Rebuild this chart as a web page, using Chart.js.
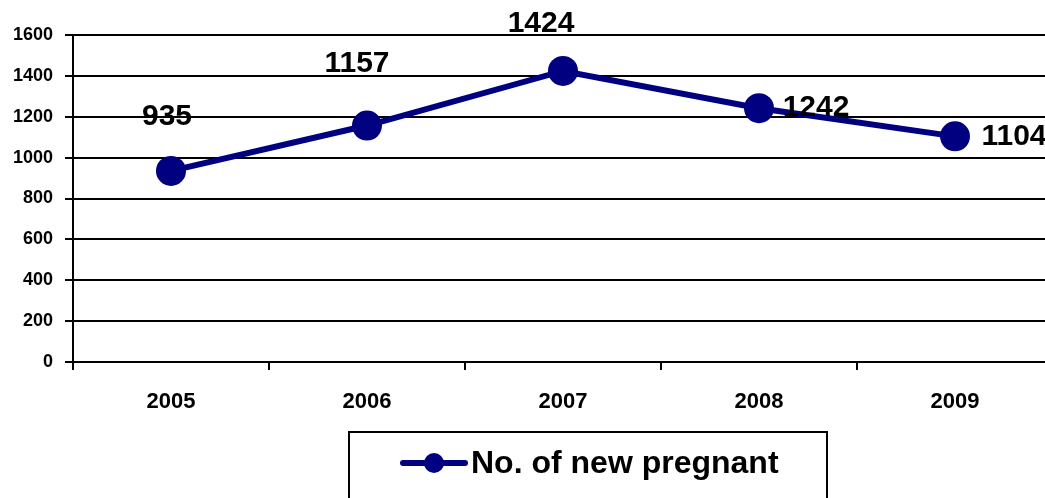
<!DOCTYPE html>
<html>
<head>
<meta charset="utf-8">
<script src="https://cdn.jsdelivr.net/npm/chart.js@4/dist/chart.umd.min.js"></script>
<style>
  html, body { margin: 0; padding: 0; background: #fff; overflow: hidden; }
  /* the plot area runs a little past the right edge of the window, as in the original */
  canvas { display: block; }
</style>
</head>
<body>
<canvas id="chart" width="1068" height="498"></canvas>
<script>
// Chart data
const years = ['2005', '2006', '2007', '2008', '2009'];
const newPregnant = [935, 1157, 1424, 1242, 1104];
const seriesName = 'No. of new pregnant';
const yTickMax = 1600;
const yTickStep = 200;

const NAVY = '#000080';
const FONT = '"Liberation Sans", Arial, sans-serif';

// label offsets relative to each point (manual placement like the original)
const labelOffsets = [[-4, -54], [-10, -62], [-22, -47], [57, 0], [59, 0]];

const valueLabels = {
    id: 'valueLabels',
    afterDatasetsDraw(chart) {
        const ctx = chart.ctx;
        const meta = chart.getDatasetMeta(0);
        ctx.save();
        ctx.font = 'bold 30px ' + FONT;
        ctx.fillStyle = '#000';
        ctx.textAlign = 'center';
        ctx.textBaseline = 'middle';
        meta.data.forEach((pt, i) => {
            const off = labelOffsets[i];
            ctx.fillText(String(chart.data.datasets[0].data[i]), pt.x + off[0], pt.y + off[1]);
        });
        ctx.restore();
    }
};

const boxLegend = {
    id: 'boxLegend',
    afterDraw(chart) {
        const ctx = chart.ctx;
        const ds = chart.data.datasets[0];
        ctx.save();
        ctx.strokeStyle = '#000';
        ctx.lineWidth = 2;
        ctx.strokeRect(349, 432, 478, 90);
        ctx.strokeStyle = ds.borderColor;
        ctx.lineWidth = 6;
        ctx.lineCap = 'round';
        ctx.beginPath();
        ctx.moveTo(403, 463);
        ctx.lineTo(465, 463);
        ctx.stroke();
        ctx.fillStyle = ds.pointBackgroundColor;
        ctx.beginPath();
        ctx.arc(434, 463, 10, 0, Math.PI * 2);
        ctx.fill();
        ctx.fillStyle = '#000';
        ctx.font = 'bold 32px ' + FONT;
        ctx.textAlign = 'left';
        ctx.textBaseline = 'middle';
        ctx.fillText(ds.label, 471, 464);
        ctx.restore();
    }
};

new Chart(document.getElementById('chart'), {
    type: 'line',
    data: {
        labels: years,
        datasets: [{
            label: seriesName,
            data: newPregnant,
            borderColor: NAVY,
            borderWidth: 6,
            pointRadius: 15,
            pointHoverRadius: 15,
            pointBackgroundColor: NAVY,
            pointBorderWidth: 0,
            tension: 0,
            clip: false
        }]
    },
    options: {
        responsive: false,
        animation: false,
        events: [],
        layout: { padding: { top: 35, right: 0, bottom: 0, left: 0 } },
        plugins: {
            legend: { display: false },
            tooltip: { enabled: false }
        },
        scales: {
            x: {
                offset: true,
                grid: {
                    offset: true,
                    drawOnChartArea: false,
                    drawTicks: true,
                    tickLength: 8,
                    color: '#000',
                    lineWidth: 2
                },
                border: { display: true, color: '#000', width: 2 },
                ticks: {
                    color: '#000',
                    padding: 19,
                    font: { family: FONT, size: 22, weight: 'bold' }
                },
                afterFit(scale) { scale.height = 136; }
            },
            y: {
                min: 0,
                max: yTickMax,
                ticks: {
                    stepSize: yTickStep,
                    color: '#000',
                    padding: 12,
                    font: { family: FONT, size: 18, weight: 'bold' },
                    callback: (v) => String(v)
                },
                grid: {
                    color: '#000',
                    lineWidth: 2,
                    drawTicks: true,
                    tickLength: 8
                },
                border: { display: true, color: '#000', width: 2 },
                afterFit(scale) { scale.width = 73; }
            }
        }
    },
    plugins: [valueLabels, boxLegend]
});
</script>
</body>
</html>
